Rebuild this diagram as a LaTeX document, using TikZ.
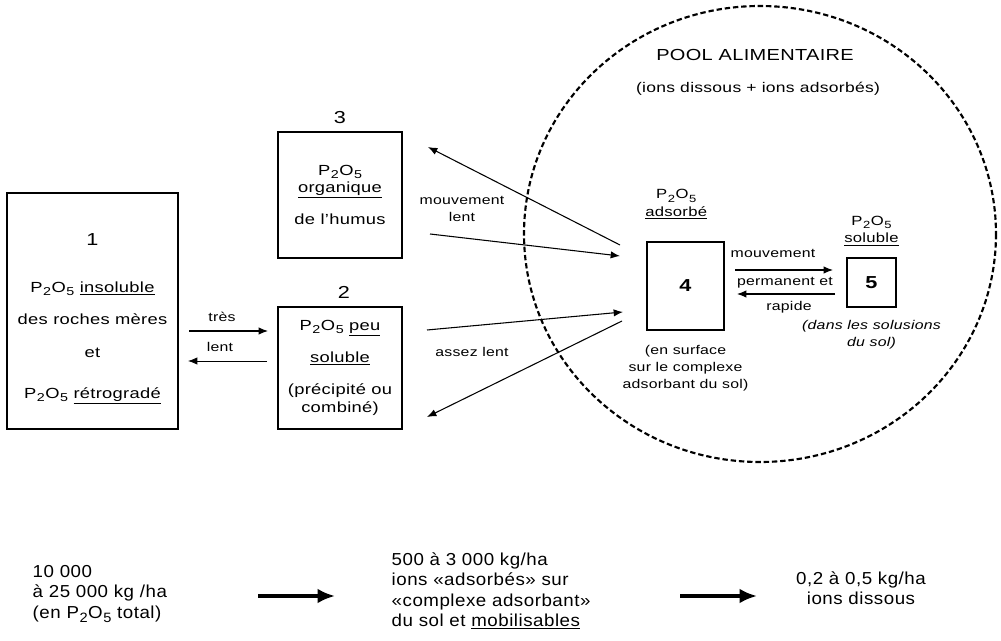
\documentclass[tikz,border=0pt]{standalone}
\usepackage{fontspec}
\setmainfont{Liberation Sans}[FakeStretch=1.25, LetterSpace=2]
\newfontfamily\basfont{Liberation Sans}[FakeStretch=1.08, LetterSpace=3]
\usetikzlibrary{arrows.meta,positioning}
\newcommand{\pdo}{P\kern.4pt\raisebox{-.45ex}{\scalebox{.78}{2}}\kern.4pt O\kern.4pt\raisebox{-.45ex}{\scalebox{.78}{5}}}

\begin{document}
\begin{tikzpicture}[x=0.75pt, y=-0.75pt,
  >={Latex[length=7pt,width=5.5pt]},
  txt/.style={align=center, font=\fontsize{11}{13}\selectfont},
  bx/.style={txt, draw, line width=1.3pt, inner sep=2pt},
  num/.style={font=\fontsize{13}{13}\selectfont},
  gnum/.style={font=\fontsize{13}{13}\selectfont\bfseries},
  sm/.style={align=center, font=\fontsize{9.5}{12.5}\selectfont},
  legende/.style={align=center, font=\fontsize{9.5}{12.75}\selectfont},
  bas/.style={font=\basfont\fontsize{13}{15.2}\selectfont},
  fl/.style={->, line width=0.8pt},
  gros/.style={-{Latex[length=13pt,width=11pt]}, line width=3.5pt},
  pool/.style={line width=1.6pt, dash pattern=on 4pt off 2.2pt}]
\useasboundingbox (0,0) rectangle (1001,641);
\draw[pool] (760,234) ellipse [x radius=236, y radius=228];
\node[txt, font=\fontsize{12}{13}\selectfont] (pt) at (755,55) {POOL ALIMENTAIRE};
\node[txt, font=\fontsize{10.5}{13}\selectfont] (ps) at (758,89) {(ions dissous + ions adsorbés)};

\node[bx, minimum width=128pt, minimum height=177pt] (b1) at (92.5,311)
  {\rule{0pt}{21pt}{\fontsize{13}{13}\selectfont 1}\\[22pt]\pdo{} \underline{insoluble}\\[11pt]des roches mères\\[11.5pt]et\\[18pt]\pdo{} \underline{rétrogradé}};
\node[bx, minimum width=93pt, minimum height=94.5pt] (b3) at (340,195)
  {\pdo\\\underline{organique}\\[11pt]de l'humus};
\node[bx, minimum width=93pt, minimum height=91.5pt] (b2) at (340,368)
  {\pdo{} \underline{peu}\\[11pt]\underline{soluble}\\[11.5pt](précipité ou\\[0.5pt]combiné)};
\node[num, above=2pt of b3] (n3) {3};
\node[num, above=2pt of b2, xshift=3pt] (n2) {2};

\node[bx, gnum, minimum width=58pt, minimum height=66pt] (b4) at (685.5,286) {4};
\node[txt, font=\fontsize{10}{13}\selectfont, above=13pt of b4, xshift=-7pt] (t4) {\pdo\\\underline{adsorbé}};
\node[legende, below=7pt of b4] (c4) {(en surface\\sur le complexe\\adsorbant du sol)};
\node[bx, gnum, minimum size=37pt] (b5) at (871.5,282.5) {5};
\node[txt, font=\fontsize{10}{13}\selectfont, above=5pt of b5] (t5) {\pdo\\\underline{soluble}};
\node[legende, font=\fontsize{9.5}{12.75}\selectfont\itshape, below=6pt of b5] (c5) {(dans les solusions\\du sol)};

\node[sm] (l1) at (222,317) {très};
\node[sm] (l2) at (220,347) {lent};
\node[sm] (l3) at (462,209) {mouvement\\lent};
\node[sm] (l4) at (472,352) {assez lent};
\node[sm] (l5) at (773,253) {mouvement};
\node[sm] (l6) at (785,283) {permanent et};
\node[sm] (l7) at (789,307) {rapide};

\coordinate (a1) at (189,331); \coordinate (a2) at (268,331);
\coordinate (r1) at (267,361); \coordinate (r2) at (188,361);
\coordinate (c1) at (620,245); \coordinate (c2) at (428,147);
\coordinate (d1) at (430,234); \coordinate (d2) at (620,256);
\coordinate (e1) at (427,330); \coordinate (e2) at (623,312);
\coordinate (f1) at (622,321); \coordinate (f2) at (427,417);
\coordinate (g1) at (735,270); \coordinate (g2) at (833,270);
\coordinate (h1) at (835,294); \coordinate (h2) at (737,294);
\draw[fl](a1)--(a2);\draw[fl, line width=0.6pt](r1)--(r2);
\draw[fl](c1)--(c2);\draw[fl](d1)--(d2);
\draw[fl](e1)--(e2);\draw[fl](f1)--(f2);
\draw[fl](g1)--(g2);\draw[fl](h1)--(h2);

\node[bas, align=left, anchor=west] (q1) at (28,594) {10 000\\à 25 000 kg /ha\\(en \pdo{} total)};
\node[bas, align=left, anchor=west] (q2) at (387,591) {500 à 3 000 kg/ha\\ions «adsorbés» sur\\«complexe adsorbant»\\du sol et \underline{mobilisables}};
\node[bas, align=center] (q3) at (861,588) {0,2 à 0,5 kg/ha\\ions dissous};
\coordinate (k1) at (258,596); \coordinate (k2) at (335,596);
\coordinate (m1) at (680,596); \coordinate (m2) at (757,596);
\draw[gros](k1)--(k2);\draw[gros](m1)--(m2);
\end{tikzpicture}
\end{document}
